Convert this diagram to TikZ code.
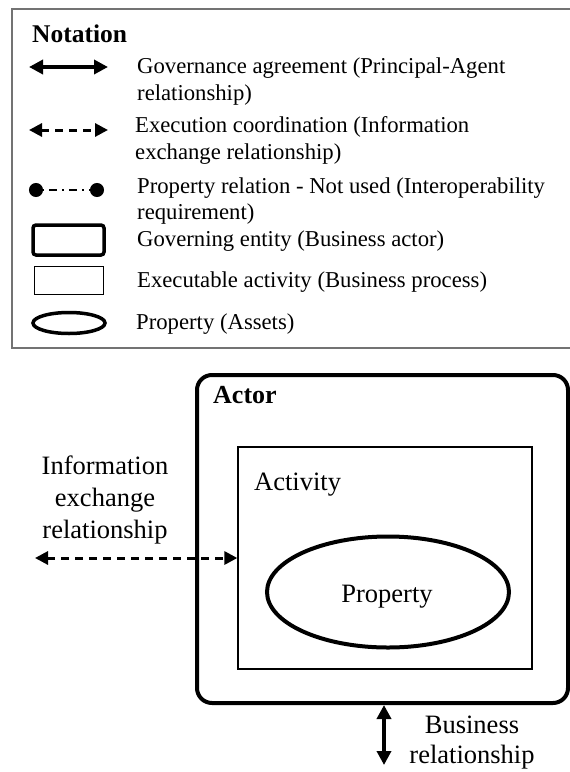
\documentclass[tikz,border=0pt]{standalone}
\usepackage{fontspec}
\setmainfont{Liberation Serif}
\usetikzlibrary{arrows.meta,shapes.geometric}
\begin{document}
\begin{tikzpicture}[x=1pt,y=-1pt,
  legtext/.style={anchor=base west, inner sep=0pt, font=\fontsize{22.7}{26}\selectfont},
  bigtext/.style={anchor=base, inner sep=0pt, font=\fontsize{26.5}{32}\selectfont},
  boldtext/.style={anchor=base west, inner sep=0pt, font=\bfseries\fontsize{25.5}{30}\selectfont},
  govarrow/.style={line width=4pt, {Triangle[length=14pt,width=14pt]}-{Triangle[length=14pt,width=14pt]}},
  execarrow/.style={line width=3pt, dash pattern=on 8pt off 6pt, {Triangle[length=13pt,width=13pt]}-{Triangle[length=13pt,width=13pt]}},
  proparrow/.style={line width=2pt, dash pattern=on 2pt off 5pt on 8pt off 5pt, {Circle[length=14pt]}-{Circle[length=14pt]}},
  actorbox/.style={draw, rectangle, line width=4pt, inner sep=0pt},
  activitybox/.style={draw, rectangle, line width=1.3pt, inner sep=0pt},
  propellipse/.style={draw, ellipse, line width=4pt, inner sep=0pt},
  legframe/.style={draw=black!55, line width=1.5pt}
]
\useasboundingbox (0,0) rectangle (570,772);

% legend frame
\draw[legframe] (572,9) -- (12,9) -- (12,348) -- (572,348);
\node[boldtext] (nottitle) at (32,42) {Notation};

% legend symbols
\coordinate (g1) at (29,67); \coordinate (g2) at (108,67);
\draw[govarrow] (g1) -- (g2);
\coordinate (e1) at (29,130); \coordinate (e2) at (108,130);
\draw[execarrow] (e1) -- (e2);
\coordinate (p1) at (29,190); \coordinate (p2) at (104,190);
\draw[proparrow] (p1) -- (p2);
\node[actorbox, line width=3.5pt, rounded corners=3pt, minimum width=71pt, minimum height=30pt] (legactor) at (68.5,240) {};
\node[activitybox, line width=1pt, minimum width=69pt, minimum height=28pt] (legactivity) at (68.5,280) {};
\node[propellipse, line width=3.5pt, minimum width=72pt, minimum height=21pt] (legprop) at (69,323) {};

% legend texts
\node[legtext] (t1a) at (137,73) {Governance agreement (Principal-Agent};
\node[legtext] (t1b) at (137,100) {relationship)};
\node[legtext] (t2a) at (135,132) {Execution coordination (Information};
\node[legtext] (t2b) at (135,159) {exchange relationship)};
\node[legtext] (t3a) at (137,193) {Property relation - Not used (Interoperability};
\node[legtext] (t3b) at (137,219) {requirement)};
\node[legtext] (t4) at (137,246) {Governing entity (Business actor)};
\node[legtext] (t5) at (137,287) {Executable activity (Business process)};
\node[legtext] (t6) at (136,329) {Property (Assets)};

% main diagram
\node[actorbox, rounded corners=15pt, minimum width=371pt, minimum height=328pt] (actor) at (382.5,539) {};
\node[boldtext, font=\bfseries\fontsize{26}{30}\selectfont] (actorlbl) at (213,403) {Actor};
\node[activitybox, minimum width=294pt, minimum height=222pt] (activity) at (385,558) {};
\node[bigtext, anchor=base west] (actlbl) at (254,490) {Activity};
\node[propellipse, minimum width=242pt, minimum height=111pt] (prop) at (388,592) {};
\node[bigtext] (proplbl) at (387,602) {Property};

% information exchange
\node[bigtext] (info1) at (105,474) {Information};
\node[bigtext] (info2) at (105,506) {exchange};
\node[bigtext] (info3) at (105,538) {relationship};
\coordinate (infoend) at (35,558);
\draw[execarrow] (infoend) -- (activity.west);

% business relationship
\coordinate (busend) at (384,765);
\draw[govarrow] (actor.south -| busend) -- (busend);
\node[bigtext] (bus1) at (472,733) {Business};
\node[bigtext] (bus2) at (472,763) {relationship};
\end{tikzpicture}
\end{document}
